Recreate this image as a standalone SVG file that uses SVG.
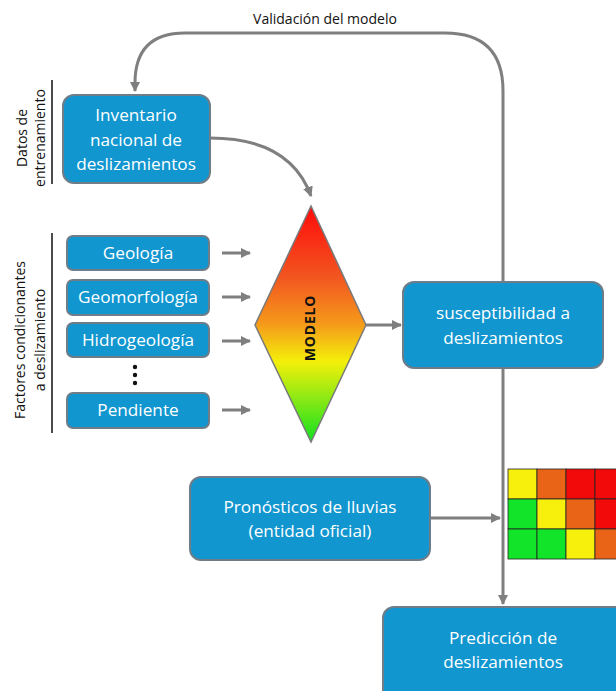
<svg xmlns="http://www.w3.org/2000/svg" width="616" height="691" viewBox="0 0 616 691">
<defs>
<style>
.box{fill:#1196cf;stroke:#6e7d88;stroke-width:2}
.t{font-family:"Open Sans","Liberation Sans",sans-serif;fill:#ffffff;font-size:17.2px;text-anchor:middle}
.lbl{font-family:"Open Sans","Liberation Sans",sans-serif;fill:#111111;font-size:14px;text-anchor:middle}
.c{fill:none;stroke:#7f7f7f;stroke-width:3}
.cell{stroke:#222222;stroke-width:0.8}
</style>
<marker id="ah" viewBox="0 0 10 10" refX="9" refY="5" markerWidth="3.4" markerHeight="3.4" orient="auto" markerUnits="strokeWidth">
<path d="M0,0 L10,5 L0,10 z" fill="#7f7f7f"/>
</marker>
<linearGradient id="grad" x1="0" y1="0" x2="0" y2="1">
<stop offset="0" stop-color="#ff0a0a"/>
<stop offset="0.3" stop-color="#f25520"/>
<stop offset="0.5" stop-color="#f59a1a"/>
<stop offset="0.66" stop-color="#f4f00a"/>
<stop offset="1" stop-color="#10e020"/>
</linearGradient>
</defs>
<rect width="616" height="691" fill="#ffffff"/>

<g id="connectors">
<path class="c" d="M503,283 L503,91 Q503,33 445,33 L185,33 Q135,33 135,83 L135,91" marker-end="url(#ah)"/>
<path class="c" d="M210,138 Q290,138 311,196" marker-end="url(#ah)"/>
<path class="c" d="M222,253 L250,253" marker-end="url(#ah)"/>
<path class="c" d="M222,297 L250,297" marker-end="url(#ah)"/>
<path class="c" d="M222,341 L250,341" marker-end="url(#ah)"/>
<path class="c" d="M222,410 L250,410" marker-end="url(#ah)"/>
<path class="c" d="M366,325 L401,325" marker-end="url(#ah)"/>
<path class="c" d="M430,518 L500,518" marker-end="url(#ah)"/>
<path class="c" d="M503,368 L503,604" marker-end="url(#ah)"/>
</g>

<text class="lbl" x="325" y="24">Validación del modelo</text>

<g id="side-labels">
<line x1="52" y1="80" x2="52" y2="184" stroke="#111" stroke-width="1.5"/>
<text class="lbl" transform="translate(27,138) rotate(-90)">Datos de</text>
<text class="lbl" transform="translate(45,138) rotate(-90)">entrenamiento</text>
<line x1="52" y1="233" x2="52" y2="433" stroke="#111" stroke-width="1.5"/>
<text class="lbl" transform="translate(25,340) rotate(-90)">Factores condicionantes</text>
<text class="lbl" transform="translate(45,340) rotate(-90)">a deslizamiento</text>
</g>

<g id="inventario">
<rect class="box" x="63" y="95" width="147" height="88" rx="11"/>
<text class="t" x="136" y="121">Inventario</text>
<text class="t" x="136" y="146">nacional de</text>
<text class="t" x="136" y="170">deslizamientos</text>
</g>

<g id="geologia">
<rect class="box" x="67" y="236" width="142" height="34" rx="6"/>
<text class="t" x="138" y="259">Geología</text>
</g>
<g id="geomorfologia">
<rect class="box" x="67" y="280" width="142" height="35" rx="6"/>
<text class="t" x="138" y="303">Geomorfología</text>
</g>
<g id="hidrogeologia">
<rect class="box" x="67" y="323" width="142" height="34" rx="6"/>
<text class="t" x="138" y="346">Hidrogeología</text>
</g>
<g id="dots" fill="#111">
<circle cx="135" cy="367" r="2.2"/>
<circle cx="135" cy="375" r="2.2"/>
<circle cx="135" cy="383" r="2.2"/>
</g>
<g id="pendiente">
<rect class="box" x="67" y="393" width="142" height="35" rx="6"/>
<text class="t" x="138" y="416">Pendiente</text>
</g>

<g id="modelo">
<polygon points="311,206 366,325 311,442 255,325" fill="url(#grad)" stroke="#7a7a7a" stroke-width="1.5"/>
<text transform="translate(315,328) rotate(-90)" font-family="'Open Sans','Liberation Sans',sans-serif" font-weight="bold" font-size="14" letter-spacing="0.8" fill="#111" text-anchor="middle">MODELO</text>
</g>

<g id="susceptibilidad">
<rect class="box" x="403" y="282" width="200" height="86" rx="11"/>
<text class="t" x="503" y="319">susceptibilidad a</text>
<text class="t" x="503" y="344">deslizamientos</text>
</g>

<g id="pronosticos">
<rect class="box" x="190" y="477" width="240" height="83" rx="11"/>
<text class="t" x="310" y="513">Pronósticos de lluvias</text>
<text class="t" x="310" y="537">(entidad oficial)</text>
</g>

<g id="grid">
<rect class="cell" x="508" y="469" width="29" height="30" fill="#f6f00c"/>
<rect class="cell" x="537" y="469" width="29" height="30" fill="#ea6418"/>
<rect class="cell" x="566" y="469" width="29" height="30" fill="#f20a0a"/>
<rect class="cell" x="595" y="469" width="29" height="30" fill="#f20a0a"/>
<rect class="cell" x="508" y="499" width="29" height="30" fill="#12e42a"/>
<rect class="cell" x="537" y="499" width="29" height="30" fill="#f6f00c"/>
<rect class="cell" x="566" y="499" width="29" height="30" fill="#ea6418"/>
<rect class="cell" x="595" y="499" width="29" height="30" fill="#f20a0a"/>
<rect class="cell" x="508" y="529" width="29" height="30" fill="#12e42a"/>
<rect class="cell" x="537" y="529" width="29" height="30" fill="#12e42a"/>
<rect class="cell" x="566" y="529" width="29" height="30" fill="#f6f00c"/>
<rect class="cell" x="595" y="529" width="29" height="30" fill="#ea6418"/>
</g>

<g id="prediccion">
<rect class="box" x="383" y="607" width="245" height="95" rx="11"/>
<text class="t" x="503" y="644">Predicción de</text>
<text class="t" x="503" y="668">deslizamientos</text>
</g>
</svg>
